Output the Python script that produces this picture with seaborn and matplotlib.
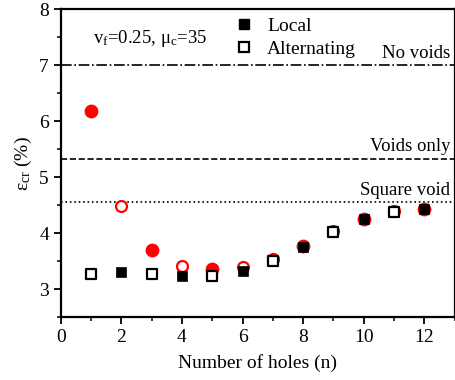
import numpy as np
import pandas as pd
import matplotlib
matplotlib.use("Agg")
import matplotlib.pyplot as plt
import seaborn as sns
from matplotlib.lines import Line2D
from matplotlib.ticker import MultipleLocator

# ---- data ----
local_n = [2, 4, 6, 8, 10, 12]
local_v = [3.31, 3.23, 3.33, 3.75, 4.25, 4.43]
alt_n = [1, 3, 5, 7, 9, 11]
alt_v = [3.28, 3.28, 3.24, 3.51, 4.03, 4.38]
red_fill_n = [1, 3, 5, 8, 10, 12]
red_fill_v = [6.19, 3.71, 3.36, 3.77, 4.26, 4.44]
red_open_n = [2, 4, 6, 7, 9, 11]
red_open_v = [4.49, 3.42, 3.40, 3.55, 4.05, 4.39]
ref_levels = [7.0, 5.33, 4.56]
ref_labels = ["No voids", "Voids only", "Square void"]
ref_styles = ["dashdot", "dashed", "dotted"]
legend_labels = ["Local", "Alternating"]

sns.set_style("ticks", {"axes.edgecolor": "black", "xtick.color": "black",
                        "ytick.color": "black", "text.color": "black",
                        "axes.labelcolor": "black"})
plt.rcParams["font.family"] = ["Liberation Serif", "DejaVu Serif"]
plt.rcParams["mathtext.fontset"] = "custom"
plt.rcParams["mathtext.rm"] = "Liberation Serif"
plt.rcParams["mathtext.it"] = "Liberation Serif:italic"

fig = plt.figure(figsize=(4.55, 3.8), dpi=100)
ax = fig.add_axes([0.1334, 0.165, 0.866, 0.8105])

# reference lines
for lvl, st in zip(ref_levels, ref_styles):
    ax.axhline(lvl, color="black", linestyle=st, linewidth=1.2, zorder=1)

df_rf = pd.DataFrame({"n": red_fill_n, "v": red_fill_v})
df_ro = pd.DataFrame({"n": red_open_n, "v": red_open_v})
df_l = pd.DataFrame({"n": local_n, "v": local_v})
df_a = pd.DataFrame({"n": alt_n, "v": alt_v})

sns.scatterplot(data=df_rf, x="n", y="v", ax=ax, marker="o", s=80,
                color="#ff0000", edgecolor="#ff0000", linewidth=1.0, zorder=2)
sns.scatterplot(data=df_ro, x="n", y="v", ax=ax, marker="o", s=62,
                facecolor="white", edgecolor="#ff0000", linewidth=1.6, zorder=2)
sns.scatterplot(data=df_l, x="n", y="v", ax=ax, marker="s", s=58,
                color="black", edgecolor="black", linewidth=0.5, zorder=3)
sns.scatterplot(data=df_a, x="n", y="v", ax=ax, marker="s", s=45,
                facecolor="white", edgecolor="black", linewidth=1.6, zorder=3)

ax.set_xlim(0, 13)
ax.set_ylim(2.5, 8)
ax.xaxis.set_major_locator(MultipleLocator(2))
ax.xaxis.set_minor_locator(MultipleLocator(1))
ax.yaxis.set_major_locator(MultipleLocator(1))
ax.yaxis.set_minor_locator(MultipleLocator(0.5))
ax.tick_params(which="major", direction="out", length=5, width=1.3, labelsize=14,
               top=False, right=False, colors="black")
ax.tick_params(which="minor", direction="out", length=3, width=1.1, top=False,
               right=False, colors="black")
for sp in ax.spines.values():
    sp.set_linewidth(1.6)
    sp.set_color("black")
    sp.set_visible(True)

ax.set_xlabel("Number of holes (n)", fontsize=14, labelpad=6, color="black")
ax.set_ylabel(r"ε$_\mathrm{cr}$ (%)", fontsize=14, labelpad=4, color="black")

# annotations
xr = 12.85
ax.text(xr, 7.06, ref_labels[0], ha="right", va="bottom", fontsize=13.5)
ax.text(xr, 5.39, ref_labels[1], ha="right", va="bottom", fontsize=13.5)
ax.text(xr, 4.62, ref_labels[2], ha="right", va="bottom", fontsize=13.5)
ax.text(2.96, 7.48, r"v$_\mathrm{f}$=0.25, μ$_\mathrm{c}$=35", ha="center", va="center",
        fontsize=13.5)

handles = [
    Line2D([], [], linestyle="none", marker="s", markersize=7, markerfacecolor="black",
           markeredgecolor="black"),
    Line2D([], [], linestyle="none", marker="s", markersize=6.5, markerfacecolor="white",
           markeredgecolor="black", markeredgewidth=1.6),
]
ax.legend(handles, legend_labels, loc="upper left", bbox_to_anchor=(0.415, 1.0),
          frameon=False, fontsize=14, handletextpad=0.6, labelspacing=0.3,
          borderaxespad=0.0, handlelength=1.2)

fig.savefig("out.png", dpi=100)
